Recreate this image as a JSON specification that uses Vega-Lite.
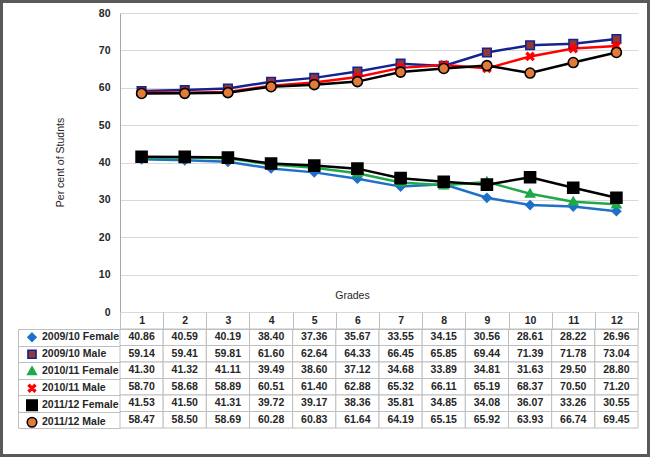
{
  "$schema": "https://vega.github.io/schema/vega-lite/v6.json",
  "width": 650,
  "height": 457,
  "autosize": "none",
  "padding": 0,
  "background": "white",
  "config": {
    "font": "Liberation Sans",
    "view": {"stroke": "#595959", "strokeWidth": 6}
  },
  "data": {
    "values": [
      {"series": "2009/10 Female", "grade": 1, "value": 40.86},
      {"series": "2009/10 Female", "grade": 2, "value": 40.59},
      {"series": "2009/10 Female", "grade": 3, "value": 40.19},
      {"series": "2009/10 Female", "grade": 4, "value": 38.40},
      {"series": "2009/10 Female", "grade": 5, "value": 37.36},
      {"series": "2009/10 Female", "grade": 6, "value": 35.67},
      {"series": "2009/10 Female", "grade": 7, "value": 33.55},
      {"series": "2009/10 Female", "grade": 8, "value": 34.15},
      {"series": "2009/10 Female", "grade": 9, "value": 30.56},
      {"series": "2009/10 Female", "grade": 10, "value": 28.61},
      {"series": "2009/10 Female", "grade": 11, "value": 28.22},
      {"series": "2009/10 Female", "grade": 12, "value": 26.96},
      {"series": "2009/10 Male", "grade": 1, "value": 59.14},
      {"series": "2009/10 Male", "grade": 2, "value": 59.41},
      {"series": "2009/10 Male", "grade": 3, "value": 59.81},
      {"series": "2009/10 Male", "grade": 4, "value": 61.60},
      {"series": "2009/10 Male", "grade": 5, "value": 62.64},
      {"series": "2009/10 Male", "grade": 6, "value": 64.33},
      {"series": "2009/10 Male", "grade": 7, "value": 66.45},
      {"series": "2009/10 Male", "grade": 8, "value": 65.85},
      {"series": "2009/10 Male", "grade": 9, "value": 69.44},
      {"series": "2009/10 Male", "grade": 10, "value": 71.39},
      {"series": "2009/10 Male", "grade": 11, "value": 71.78},
      {"series": "2009/10 Male", "grade": 12, "value": 73.04},
      {"series": "2010/11 Female", "grade": 1, "value": 41.30},
      {"series": "2010/11 Female", "grade": 2, "value": 41.32},
      {"series": "2010/11 Female", "grade": 3, "value": 41.11},
      {"series": "2010/11 Female", "grade": 4, "value": 39.49},
      {"series": "2010/11 Female", "grade": 5, "value": 38.60},
      {"series": "2010/11 Female", "grade": 6, "value": 37.12},
      {"series": "2010/11 Female", "grade": 7, "value": 34.68},
      {"series": "2010/11 Female", "grade": 8, "value": 33.89},
      {"series": "2010/11 Female", "grade": 9, "value": 34.81},
      {"series": "2010/11 Female", "grade": 10, "value": 31.63},
      {"series": "2010/11 Female", "grade": 11, "value": 29.50},
      {"series": "2010/11 Female", "grade": 12, "value": 28.80},
      {"series": "2010/11 Male", "grade": 1, "value": 58.70},
      {"series": "2010/11 Male", "grade": 2, "value": 58.68},
      {"series": "2010/11 Male", "grade": 3, "value": 58.89},
      {"series": "2010/11 Male", "grade": 4, "value": 60.51},
      {"series": "2010/11 Male", "grade": 5, "value": 61.40},
      {"series": "2010/11 Male", "grade": 6, "value": 62.88},
      {"series": "2010/11 Male", "grade": 7, "value": 65.32},
      {"series": "2010/11 Male", "grade": 8, "value": 66.11},
      {"series": "2010/11 Male", "grade": 9, "value": 65.19},
      {"series": "2010/11 Male", "grade": 10, "value": 68.37},
      {"series": "2010/11 Male", "grade": 11, "value": 70.50},
      {"series": "2010/11 Male", "grade": 12, "value": 71.20},
      {"series": "2011/12 Female", "grade": 1, "value": 41.53},
      {"series": "2011/12 Female", "grade": 2, "value": 41.50},
      {"series": "2011/12 Female", "grade": 3, "value": 41.31},
      {"series": "2011/12 Female", "grade": 4, "value": 39.72},
      {"series": "2011/12 Female", "grade": 5, "value": 39.17},
      {"series": "2011/12 Female", "grade": 6, "value": 38.36},
      {"series": "2011/12 Female", "grade": 7, "value": 35.81},
      {"series": "2011/12 Female", "grade": 8, "value": 34.85},
      {"series": "2011/12 Female", "grade": 9, "value": 34.08},
      {"series": "2011/12 Female", "grade": 10, "value": 36.07},
      {"series": "2011/12 Female", "grade": 11, "value": 33.26},
      {"series": "2011/12 Female", "grade": 12, "value": 30.55},
      {"series": "2011/12 Male", "grade": 1, "value": 58.47},
      {"series": "2011/12 Male", "grade": 2, "value": 58.50},
      {"series": "2011/12 Male", "grade": 3, "value": 58.69},
      {"series": "2011/12 Male", "grade": 4, "value": 60.28},
      {"series": "2011/12 Male", "grade": 5, "value": 60.83},
      {"series": "2011/12 Male", "grade": 6, "value": 61.64},
      {"series": "2011/12 Male", "grade": 7, "value": 64.19},
      {"series": "2011/12 Male", "grade": 8, "value": 65.15},
      {"series": "2011/12 Male", "grade": 9, "value": 65.92},
      {"series": "2011/12 Male", "grade": 10, "value": 63.93},
      {"series": "2011/12 Male", "grade": 11, "value": 66.74},
      {"series": "2011/12 Male", "grade": 12, "value": 69.45}
    ]
  },
  "encoding": {
    "x": {
      "field": "grade",
      "type": "ordinal",
      "scale": {"type": "band", "range": [120, 638], "paddingInner": 0, "paddingOuter": 0},
      "axis": {
        "orient": "top",
        "offset": -329,
        "labelAngle": 0,
        "labelFont": "Liberation Sans",
        "labelFontSize": 10.5,
        "labelFontWeight": "bold",
        "labelColor": "#262626",
        "labelPadding": -13,
        "labelBaseline": "bottom",
        "ticks": true,
        "tickBand": "extent",
        "tickSize": 17,
        "tickColor": "#bfbfbf",
        "domain": true,
        "domainColor": "#bfbfbf",
        "grid": false,
        "title": "Grades",
        "titleFont": "Liberation Sans",
        "titleFontSize": 10.5,
        "titleFontWeight": "normal",
        "titleColor": "#262626",
        "titleX": 352,
        "titleY": -34,
        "titleBaseline": "middle",
        "titleAlign": "center"
      }
    }
  },
  "layer": [
    {
      "encoding": {
        "y": {
          "field": "series",
          "type": "nominal",
          "sort": ["2009/10 Female", "2009/10 Male", "2010/11 Female", "2010/11 Male", "2011/12 Female", "2011/12 Male"],
          "scale": {"type": "band", "range": [329, 428], "paddingInner": 0, "paddingOuter": 0},
          "axis": {
            "orient": "left",
            "offset": -18,
            "labels": false,
            "title": null,
            "grid": false,
            "domain": true,
            "domainColor": "#bfbfbf",
            "ticks": true,
            "tickBand": "extent",
            "tickSize": -102,
            "tickColor": "#bfbfbf"
          }
        }
      },
      "layer": [
        {
          "mark": {"type": "rect", "fill": "white", "stroke": "#bfbfbf", "strokeWidth": 1}
        },
        {
          "mark": {"type": "text", "font": "Liberation Sans", "fontSize": 10.5, "fontWeight": "bold", "color": "#262626"},
          "encoding": {"text": {"field": "value", "type": "quantitative", "format": ".2f"}}
        }
      ]
    },
    {
      "encoding": {
        "y": {
          "field": "value",
          "type": "quantitative",
          "scale": {"domain": [0, 80], "range": [312, 13], "nice": false, "zero": true},
          "axis": {
            "orient": "left",
            "offset": -120,
            "values": [0, 10, 20, 30, 40, 50, 60, 70, 80],
            "labelFont": "Liberation Sans",
            "labelFontSize": 10.5,
            "labelFontWeight": "bold",
            "labelColor": "#262626",
            "labelPadding": 10,
            "ticks": false,
            "domain": true,
            "domainColor": "#a6a6a6",
            "grid": true,
            "gridColor": "#d9d9d9",
            "gridWidth": 1,
            "title": "Per cent of Studnts",
            "titleFont": "Liberation Sans",
            "titleFontSize": 10.5,
            "titleFontWeight": "normal",
            "titleColor": "#262626",
            "titleX": -60,
            "titleY": 162,
            "titleAngle": -90,
            "titleAlign": "center",
            "titleBaseline": "middle"
          }
        },
        "stroke": {
          "field": "series",
          "type": "nominal",
          "title": null,
          "scale": {
            "domain": ["2009/10 Female", "2009/10 Male", "2010/11 Female", "2010/11 Male", "2011/12 Female", "2011/12 Male"],
            "range": ["#1F70C8", "#13248F", "#1FA84A", "#FF0000", "#000000", "#000000"]
          },
          "legend": {
            "orient": "none",
            "legendX": 26,
            "legendY": 329,
            "padding": 0,
            "rowPadding": 0,
            "symbolSize": 90,
            "symbolStrokeWidth": 1.6,
            "labelFont": "Liberation Sans",
            "labelFontSize": 10.5,
            "labelFontWeight": "bold",
            "labelColor": "#262626",
            "labelOffset": 4,
            "labelLimit": 300,
            "clipHeight": 16.5
          }
        }
      },
      "layer": [
        {
          "mark": {"type": "line", "strokeWidth": 2.5}
        },
        {
          "mark": {"type": "point", "opacity": 1, "strokeWidth": 1.6, "size": 100},
          "encoding": {
            "shape": {
              "field": "series",
              "type": "nominal",
              "title": null,
              "scale": {
                "domain": ["2009/10 Female", "2009/10 Male", "2010/11 Female", "2010/11 Male", "2011/12 Female", "2011/12 Male"],
                "range": [
                  "M0,-0.85L0.85,0L0,0.85L-0.85,0Z",
                  "M-0.85,-0.85H0.85V0.85H-0.85Z",
                  "M0,-0.9L0.9,0.65H-0.9Z",
                  "M-0.75,-0.5L-0.5,-0.75L0.75,0.5L0.5,0.75Z M-0.75,0.5L0.5,-0.75L0.75,-0.5L-0.5,0.75Z",
                  "M-1.1,-1.1H1.1V1.1H-1.1Z",
                  "M1,0A1,1 0 1,1 -1,0A1,1 0 1,1 1,0Z"
                ]
              }
            },
            "fill": {
              "field": "series",
              "type": "nominal",
              "title": null,
              "scale": {
                "domain": ["2009/10 Female", "2009/10 Male", "2010/11 Female", "2010/11 Male", "2011/12 Female", "2011/12 Male"],
                "range": ["#1F70C8", "#953735", "#1FA84A", "#FF0000", "#000000", "#E07B39"]
              }
            }
          }
        }
      ]
    }
  ],
  "resolve": {"scale": {"y": "independent"}, "axis": {"y": "independent"}}
}
